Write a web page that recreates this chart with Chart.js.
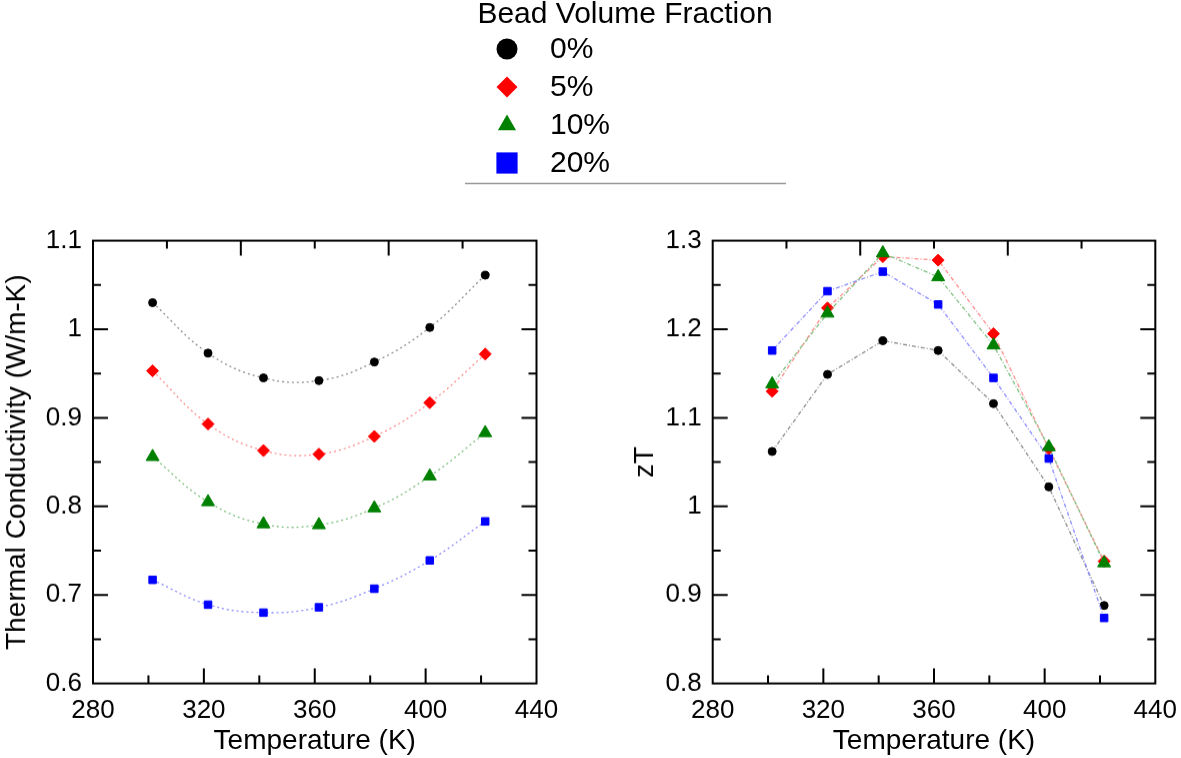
<!DOCTYPE html>
<html>
<head>
<meta charset="utf-8">
<script src="https://cdn.jsdelivr.net/npm/chart.js@4.4.1/dist/chart.umd.min.js"></script>
<style>
    body { margin: 0; background: #fff; width: 1181px; height: 758px; overflow: hidden; position: relative; }
    #legend { position: absolute; left: 0; top: 0; }
    .plot { position: absolute; top: 214.4px; height: 543.6px; }
    #kappaBox { left: 0; width: 580px; }
    #ztBox { left: 608px; width: 581px; }
</style>
</head>
<body>
<canvas id="legend" width="1181" height="200"></canvas>
<div class="plot" id="kappaBox"><canvas id="kappa"></canvas></div>
<div class="plot" id="ztBox"><canvas id="zt"></canvas></div>
<script>
// ---- data ----
const temperatures = [301.5, 321.5, 341.5, 361.5, 381.5, 401.5, 421.5];

const kappa0  = [1.030, 0.973, 0.945, 0.942, 0.963, 1.002, 1.061];
const kappa5  = [0.953, 0.893, 0.863, 0.859, 0.879, 0.917, 0.972];
const kappa10 = [0.856, 0.805, 0.780, 0.779, 0.798, 0.834, 0.883];
const kappa20 = [0.717, 0.689, 0.680, 0.686, 0.707, 0.739, 0.783];

const zt0  = [1.062, 1.149, 1.187, 1.176, 1.116, 1.022, 0.888];
const zt5  = [1.130, 1.224, 1.282, 1.278, 1.195, 1.065, 0.938];
const zt10 = [1.138, 1.218, 1.286, 1.259, 1.182, 1.067, 0.936];
const zt20 = [1.176, 1.243, 1.265, 1.228, 1.145, 1.054, 0.874];

const fractionLabels = ['0%', '5%', '10%', '20%'];
const legendTitle = 'Bead Volume Fraction';

const xMajorTicks = [320, 360, 400];
const xMinorTicks = [300, 340, 380, 420];
const kappaMajorTicks = [0.7, 0.8, 0.9, 1.0];
const kappaMinorTicks = [0.65, 0.75, 0.85, 0.95, 1.05];
const ztMajorTicks = [0.9, 1.0, 1.1, 1.2];
const ztMinorTicks = [0.85, 0.95, 1.05, 1.15, 1.25];

// ---- styling ----
const FONT = '"Liberation Sans", Arial, sans-serif';
Chart.defaults.font.family = FONT;
Chart.defaults.color = '#000';

const markColors = ['#000000', '#ff0000', '#008000', '#0000ff'];
const lineColors = ['#8c8c8c', '#ff8c8c', '#7fbf7f', '#8c8cff'];
const pointStyles = ['circle', 'rectRot', 'triangle', 'rect'];
const pointSizes = [4, 6, 7.5, 5.3];

// frame + inward ticks on all four sides (top ticks split the width in sixths)
const frameTicks = {
    id: 'frameTicks',
    afterDraw(chart, args, opts) {
        const { ctx, chartArea: a, scales: { x, y } } = chart;
        const MAJ = 15, MIN = 8;
        ctx.save();
        ctx.strokeStyle = '#000';
        ctx.lineWidth = 2;
        ctx.strokeRect(a.left, a.top, a.right - a.left, a.bottom - a.top);
        ctx.beginPath();
        const vtick = (px, len) => { ctx.moveTo(px, a.bottom); ctx.lineTo(px, a.bottom - len); };
        const htick = (py, len) => {
            ctx.moveTo(a.left, py); ctx.lineTo(a.left + len, py);
            ctx.moveTo(a.right, py); ctx.lineTo(a.right - len, py);
        };
        xMajorTicks.forEach(v => vtick(x.getPixelForValue(v), MAJ));
        xMinorTicks.forEach(v => vtick(x.getPixelForValue(v), MIN));
        opts.major.forEach(v => htick(y.getPixelForValue(v), MAJ));
        opts.minor.forEach(v => htick(y.getPixelForValue(v), MIN));
        for (let k = 1; k < 6; k++) {
            const px = a.left + (a.right - a.left) * k / 6;
            ctx.moveTo(px, a.top);
            ctx.lineTo(px, a.top + (k % 2 === 0 ? MAJ : MIN));
        }
        ctx.stroke();
        ctx.restore();
    },
};

function makeDatasets(series, tension) {
    return series.map((vals, i) => ({
        label: fractionLabels[i],
        data: temperatures.map((t, j) => ({ x: t, y: vals[j] })),
        borderColor: lineColors[i],
        borderWidth: 1.3,
        borderDash: tension ? [2, 3] : [4, 2, 1, 2],
        tension,
        pointStyle: pointStyles[i],
        pointRadius: pointSizes[i],
        pointBackgroundColor: markColors[i],
        pointBorderColor: markColors[i],
        pointBorderWidth: 1,
        order: 3 - i,
    }));
}

function createPanel(canvasId, series, tension, yMin, yMax, yTitle, yWidth, yTitlePad, major, minor, padRight) {
    return new Chart(document.getElementById(canvasId), {
        type: 'line',
        data: { datasets: makeDatasets(series, tension) },
        plugins: [frameTicks],
        options: {
            responsive: true,
            maintainAspectRatio: false,
            animation: false,
            layout: { padding: { left: 0, top: 16, right: padRight, bottom: 0 } },
            plugins: {
                legend: { display: false },
                tooltip: { enabled: false },
                frameTicks: { major, minor },
            },
            scales: {
                x: {
                    type: 'linear',
                    min: 280,
                    max: 440,
                    ticks: { stepSize: 40, padding: 12, maxRotation: 0, autoSkip: false, font: { size: 26 }, color: '#000' },
                    grid: { display: false, drawTicks: false },
                    border: { display: false },
                    title: { display: true, text: 'Temperature (K)', font: { size: 28 }, color: '#000', padding: { top: 0, bottom: 1 } },
                    afterFit: (s) => { s.height = 75; },
                },
                y: {
                    type: 'linear',
                    min: yMin,
                    max: yMax,
                    ticks: {
                        stepSize: 0.1,
                        padding: 11,
                        font: { size: 26 },
                        color: '#000',
                        callback: (v) => String(+v.toFixed(2)),
                    },
                    grid: { display: false, drawTicks: false },
                    border: { display: false },
                    title: { display: true, text: yTitle, font: { size: 28 }, color: '#000', padding: { top: yTitlePad, bottom: 0 } },
                    afterFit: (s) => { s.width = yWidth; },
                },
            },
        },
    });
}

createPanel('kappa', [kappa0, kappa5, kappa10, kappa20], 0.4, 0.6, 1.1,
    'Thermal Conductivity (W/m-K)', 93, 0, kappaMajorTicks, kappaMinorTicks, 43.5);
createPanel('zt', [zt0, zt5, zt10, zt20], 0, 0.8, 1.3,
    'zT', 104.7, 20, ztMajorTicks, ztMinorTicks, 26);

// ---- shared legend above the panels ----
function drawLegend() {
    const ctx = document.getElementById('legend').getContext('2d');
    ctx.fillStyle = '#000';
    ctx.font = '30px ' + FONT;
    ctx.textAlign = 'center';
    ctx.textBaseline = 'middle';
    ctx.fillText(legendTitle, 625, 15);

    const rows = [49, 87, 125, 163];
    const legendSizes = [10.5, 10.5, 10.5, 15];
    fractionLabels.forEach((lab, i) => {
        ctx.fillStyle = markColors[i];
        ctx.strokeStyle = markColors[i];
        Chart.helpers.drawPoint(ctx, { pointStyle: pointStyles[i], radius: legendSizes[i], rotation: 0, borderWidth: 0 }, 507, rows[i]);
        ctx.fillStyle = '#000';
        ctx.textAlign = 'left';
        ctx.fillText(lab, 550, rows[i] + 1);
    });

    ctx.strokeStyle = '#999';
    ctx.lineWidth = 1.5;
    ctx.beginPath();
    ctx.moveTo(465, 183.5);
    ctx.lineTo(786, 183.5);
    ctx.stroke();
}
drawLegend();
</script>
</body>
</html>
